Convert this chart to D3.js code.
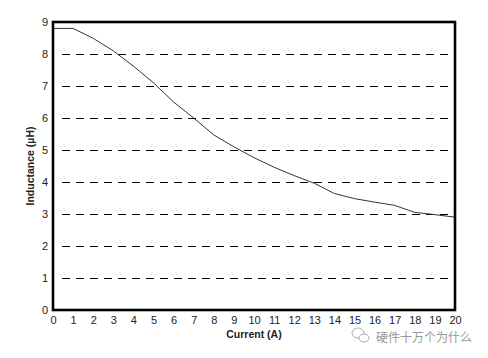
<!DOCTYPE html>
<html><head><meta charset="utf-8">
<script src="https://cdn.jsdelivr.net/npm/d3@7"></script>
<style>
html,body{margin:0;padding:0;background:#fff;}
svg{display:block;font-family:"Liberation Sans",Arial,sans-serif;}
</style></head>
<body><svg id="c" width="488" height="358"></svg>
<script>
const current = [0,1,2,3,4,5,6,7,8,9,10,11,12,13,14,15,16,17,18,19,20];
const inductance = [8.8,8.8,8.49,8.1,7.62,7.1,6.5,6.0,5.47,5.1,4.76,4.46,4.2,3.96,3.64,3.48,3.37,3.27,3.05,2.98,2.9];
const xTicks = d3.range(0,21);
const yTicks = d3.range(0,10);
const gridValues = [1,2,3,4,5,6,7,8];
const xTitle = "Current (A)";
const yTitle = "Inductance (\u00b5H)";
const watermark = "硬件十万个为什么";

const svg = d3.select("#c");
const L=53, R=455, T=22, B=310;
const x = d3.scaleLinear().domain([0,20]).range([L,R]);
const y = d3.scaleLinear().domain([0,9]).range([B,T]);

// grid
svg.append("g").attr("transform","translate(0,0.5)").selectAll("line").data(gridValues).join("line")
  .attr("x1", L+9).attr("x2", R).attr("y1", d=>Math.round(y(d))).attr("y2", d=>Math.round(y(d)))
  .attr("stroke","#000").attr("stroke-width",1).attr("stroke-dasharray","8,6");

// curve
svg.append("path").datum(current.map((c,i)=>[c,inductance[i]]))
  .attr("fill","none").attr("stroke","#333").attr("stroke-width",1)
  .attr("d", d3.line().x(d=>x(d[0])).y(d=>y(d[1])));

// frame
svg.append("rect").attr("x",L).attr("y",T).attr("width",R-L).attr("height",B-T)
  .attr("fill","none").attr("stroke","#000").attr("stroke-width",2.6);

// axes labels
const xa = svg.append("g").attr("transform",`translate(0,${B+2})`)
  .call(d3.axisBottom(x).tickValues(xTicks).tickSize(0).tickPadding(4).tickFormat(d3.format("d")));
xa.select(".domain").remove();
xa.selectAll("text").attr("font-size",11).attr("fill","#222").attr("font-family","Liberation Sans, Arial, sans-serif");

const ya = svg.append("g").attr("transform",`translate(${L-3},0)`)
  .call(d3.axisLeft(y).tickValues(yTicks).tickSize(0).tickPadding(2).tickFormat(d3.format("d")));
ya.select(".domain").remove();
ya.selectAll("text").attr("font-size",11).attr("fill","#222").attr("font-family","Liberation Sans, Arial, sans-serif");

svg.append("text").attr("x",(L+R)/2).attr("y",338).attr("text-anchor","middle")
  .attr("font-size",10.5).attr("font-weight","bold").attr("fill","#222").text(xTitle);
svg.append("text").attr("transform",`translate(34,${(T+B)/2}) rotate(-90)`).attr("text-anchor","middle")
  .attr("font-size",10.5).attr("font-weight","bold").attr("fill","#222").text(yTitle);

// watermark
const wm = svg.append("g").attr("fill","none").attr("stroke","#aaa").attr("stroke-width",1);
wm.append("ellipse").attr("cx",358).attr("cy",333).attr("rx",6).attr("ry",5);
wm.append("ellipse").attr("cx",364).attr("cy",338).attr("rx",5).attr("ry",4).attr("fill","#fff");
svg.append("text").attr("x",376).attr("y",342).attr("font-size",12)
  .attr("font-family","Noto Sans CJK SC, sans-serif").attr("fill","#999").text(watermark);
</script></body></html>
